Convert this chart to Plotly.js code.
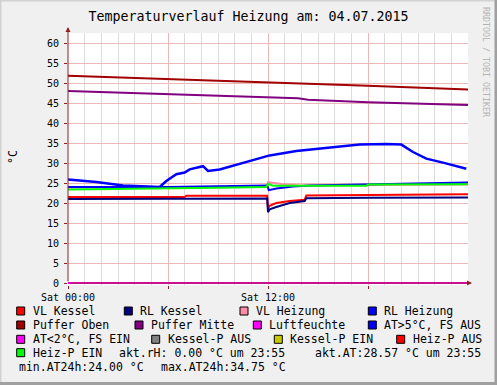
<!DOCTYPE html>
<html>
<head>
<meta charset="utf-8">
<script src="https://cdn.plot.ly/plotly-3.0.1.min.js"></script>
<style>html,body{margin:0;padding:0;background:#F0F0F0;}#chart{width:497px;height:385px;}</style>
</head>
<body>
<div id="chart"></div>
<script>
// ---- data (hours since Sat 00:00, temperatures in °C) ----
const vlKesselHours = [0, 7, 7.1, 11.95, 12.0, 12.1, 12.5, 13.3, 14.2, 14.3, 18, 24];
const vlKesselTemp  = [21.5, 21.5, 21.8, 21.8, 18.6, 19.3, 20.0, 20.5, 20.8, 21.9, 22.0, 22.2];

const rlKesselHours = [0, 7, 11.95, 12.0, 12.1, 12.5, 13.3, 14.2, 14.3, 18, 24];
const rlKesselTemp  = [21.0, 21.0, 21.1, 17.7, 18.4, 19.0, 20.0, 20.5, 21.2, 21.3, 21.4];

const vlHeizungHours = [0, 11.9, 12.0, 12.5, 13.0, 14, 24];
const vlHeizungTemp  = [23.9, 24.0, 25.2, 24.9, 24.6, 24.4, 24.6];

const rlHeizungHours = [0, 6, 11.95, 12.05, 12.5, 13.5, 14.5, 18, 24];
const rlHeizungTemp  = [24.0, 24.0, 24.4, 23.2, 23.6, 24.1, 24.4, 24.6, 25.1];

const pufferObenHours = [0, 6, 12, 18, 24];
const pufferObenTemp  = [51.8, 51.0, 50.2, 49.3, 48.4];

const pufferMitteHours = [0, 6, 12, 13.8, 14.4, 18, 24];
const pufferMitteTemp  = [48.0, 47.2, 46.4, 46.2, 45.8, 45.2, 44.5];

const luftfeuchteHours = [0, 24];
const luftfeuchteVal   = [0, 0];

const aussenHours = [0, 1.7, 3.3, 5.5, 5.9, 6.5, 7.0, 7.3, 8.1, 8.4, 9.1, 10.3, 11.5, 12.1, 13.7, 15.1, 16.5, 17.5, 19.1, 20.0, 20.7, 21.5, 22.5, 23.9];
const aussenTemp  = [25.9, 25.25, 24.4, 24.0, 25.5, 27.2, 27.6, 28.4, 29.2, 28.0, 28.4, 29.85, 31.25, 31.9, 33.0, 33.6, 34.2, 34.6, 34.75, 34.6, 32.75, 31.1, 30.1, 28.57];

const heizPEinHours = [0, 6, 9, 11.9, 12.0, 12.3, 14, 17.9, 18.0, 24];
const heizPEinVal   = [23.4, 23.6, 23.8, 24.0, 24.8, 24.3, 24.3, 24.3, 24.6, 24.7];

const legendNames  = ["VL Kessel", "RL Kessel", "VL Heizung", "RL Heizung", "Puffer Oben", "Puffer Mitte", "Luftfeuchte", "AT>5°C, FS AUS", "AT<2°C, FS EIN", "Kessel-P AUS", "Kessel-P EIN", "Heiz-P AUS", "Heiz-P EIN"];
const legendColors = ["#FF0000", "#000080", "#FF8CA8", "#0000FF", "#A00000", "#800080", "#FF00FF", "#0000FF", "#FF00FF", "#808080", "#C8C800", "#FF0000", "#00FF00"];

const xTickVals = [0, 6, 12, 18];
const xTickText = ["Sat 00:00", "", "Sat 12:00", ""];
const yTickVals = [0, 5, 10, 15, 20, 25, 30, 35, 40, 45, 50, 55, 60];

const aktRH = "0.00", aktAT = "28.57", aktTime = "23:55";
const minAT24 = "24.00", maxAT24 = "34.75";
const titleText = "Temperaturverlauf Heizung am: 04.07.2015";

// ---- layout helpers ----
const W = 497, H = 385, L = 68, R = 29, T = 33, B = 100;
const PW = W - L - R, PH = H - T - B;
const px = x => (x - L) / PW;
const py = y => (H - B - y) / PH;
const FONT = "DejaVu Sans Mono";

function tr(x, y, color, width) {
  return {x: x, y: y, type: "scatter", mode: "lines", line: {color: color, width: width},
          hoverinfo: "skip", showlegend: false};
}
const data = [
  tr(vlKesselHours, vlKesselTemp, legendColors[0], 2),
  tr(rlKesselHours, rlKesselTemp, legendColors[1], 2),
  tr(vlHeizungHours, vlHeizungTemp, legendColors[2], 2),
  tr(rlHeizungHours, rlHeizungTemp, legendColors[3], 2),
  tr(pufferObenHours, pufferObenTemp, legendColors[4], 2),
  tr(pufferMitteHours, pufferMitteTemp, legendColors[5], 2),
  tr(luftfeuchteHours, luftfeuchteVal, legendColors[6], 2),
  tr(aussenHours, aussenTemp, legendColors[7], 2.5),
  tr(heizPEinHours, heizPEinVal, legendColors[12], 2)
];

// legend placement (box left x in px, row index)
const rowY = [311, 325, 339.3, 352.7, 367];
const legendPos = [
  [16.7, 0], [124.3, 0], [240, 0], [368.3, 0],
  [16.7, 1], [135, 1], [253.3, 1], [368.3, 1],
  [16.7, 2], [151.7, 2], [274.3, 2], [396.7, 2],
  [16.7, 3]
];

const shapes = [];
const annotations = [];
legendNames.forEach((name, i) => {
  const bx = legendPos[i][0], cy = rowY[legendPos[i][1]];
  shapes.push({type: "rect", xref: "paper", yref: "paper",
    x0: px(bx), x1: px(bx + 8), y0: py(cy + 4), y1: py(cy - 4),
    fillcolor: legendColors[i], line: {color: "#000000", width: 1}, layer: "above"});
  annotations.push({xref: "paper", yref: "paper", x: px(bx + 14), y: py(cy),
    xanchor: "left", yanchor: "middle", showarrow: false, text: name,
    font: {family: FONT, size: 11.5, color: "#000"}});
});
const extraTexts = [
  ["akt.rH: " + aktRH + " °C um " + aktTime, 117, 3],
  ["akt.AT:" + aktAT + " °C um " + aktTime, 312.7, 3],
  ["min.AT24h:" + minAT24 + " °C", 16.7, 4],
  ["max.AT24h:" + maxAT24 + " °C", 159, 4]
];
extraTexts.forEach(t => annotations.push({xref: "paper", yref: "paper", x: px(t[1]), y: py(rowY[t[2]]),
  xanchor: "left", yanchor: "middle", showarrow: false, text: t[0],
  font: {family: FONT, size: 11.5, color: "#000"}}));

// y-axis title
annotations.push({xref: "paper", yref: "paper", x: px(13), y: py(157), xanchor: "center", yanchor: "middle",
  showarrow: false, text: "°C", textangle: -90, font: {family: FONT, size: 11.5, color: "#000"}});
// watermark
annotations.push({xref: "paper", yref: "paper", x: px(486), y: py(62), xanchor: "center", yanchor: "middle",
  showarrow: false, text: "RRDTOOL / TOBI OETIKER", textangle: 90, font: {family: FONT, size: 8.3, color: "#B4B4B4"}});
// axis arrows
const ARROW = "#902020";
annotations.push({xref: "x", yref: "paper", x: 0, y: py(27), ax: 0, ay: 256, axref: "pixel", ayref: "pixel",
  text: "", showarrow: true, arrowhead: 2, arrowsize: 1, arrowwidth: 1, arrowcolor: ARROW, standoff: 0});
annotations.push({xref: "paper", yref: "y", x: px(472), y: 0, ax: -404, ay: 0, axref: "pixel", ayref: "pixel",
  text: "", showarrow: true, arrowhead: 2, arrowsize: 1, arrowwidth: 1, arrowcolor: ARROW, standoff: 0});

// frame shading
shapes.push({type: "rect", xref: "paper", yref: "paper", x0: px(0), x1: px(W), y0: py(0), y1: py(1.5), fillcolor: "#D2D2D2", line: {width: 0}, layer: "above"});
shapes.push({type: "rect", xref: "paper", yref: "paper", x0: px(0), x1: px(1.5), y0: py(0), y1: py(H), fillcolor: "#D2D2D2", line: {width: 0}, layer: "above"});
shapes.push({type: "rect", xref: "paper", yref: "paper", x0: px(W - 2.5), x1: px(W), y0: py(0), y1: py(H), fillcolor: "#A0A0A0", line: {width: 0}, layer: "above"});
shapes.push({type: "rect", xref: "paper", yref: "paper", x0: px(0), x1: px(W), y0: py(H - 3), y1: py(H), fillcolor: "#A0A0A0", line: {width: 0}, layer: "above"});

const layout = {
  width: W, height: H, autosize: false,
  margin: {l: L, r: R, t: T, b: B, pad: 0},
  paper_bgcolor: "#F0F0F0", plot_bgcolor: "#FFFFFF",
  font: {family: FONT, size: 10, color: "#000"},
  title: {text: titleText, x: 0.5, xref: "container", y: 1 - 16.7 / H, yref: "container",
          xanchor: "center", yanchor: "middle", font: {family: FONT, size: 13.3, color: "#000"}},
  xaxis: {range: [0, 24], tickmode: "array", tickvals: xTickVals, ticktext: xTickText,
          showgrid: true, gridcolor: "#EDB8B8", gridwidth: 1, zeroline: false, showline: false,
          ticks: "outside", ticklen: 3, tickcolor: ARROW, tickfont: {family: FONT, size: 10, color: "#000"},
          minor: {tickmode: "linear", tick0: 0, dtick: 1, showgrid: true, gridcolor: "#DCDCDC", gridwidth: 1, ticks: ""},
          fixedrange: true},
  yaxis: {range: [-0.5, 62.5], tickmode: "array", tickvals: yTickVals,
          showgrid: true, gridcolor: "#EDB8B8", gridwidth: 1, zeroline: false, showline: false,
          ticks: "outside", ticklen: 3, tickcolor: ARROW, ticklabelstandoff: 3,
          tickfont: {family: FONT, size: 10, color: "#000"},
          fixedrange: true},
  shapes: shapes, annotations: annotations, showlegend: false
};

Plotly.newPlot("chart", data, layout, {staticPlot: true, displayModeBar: false});
</script>
</body>
</html>
